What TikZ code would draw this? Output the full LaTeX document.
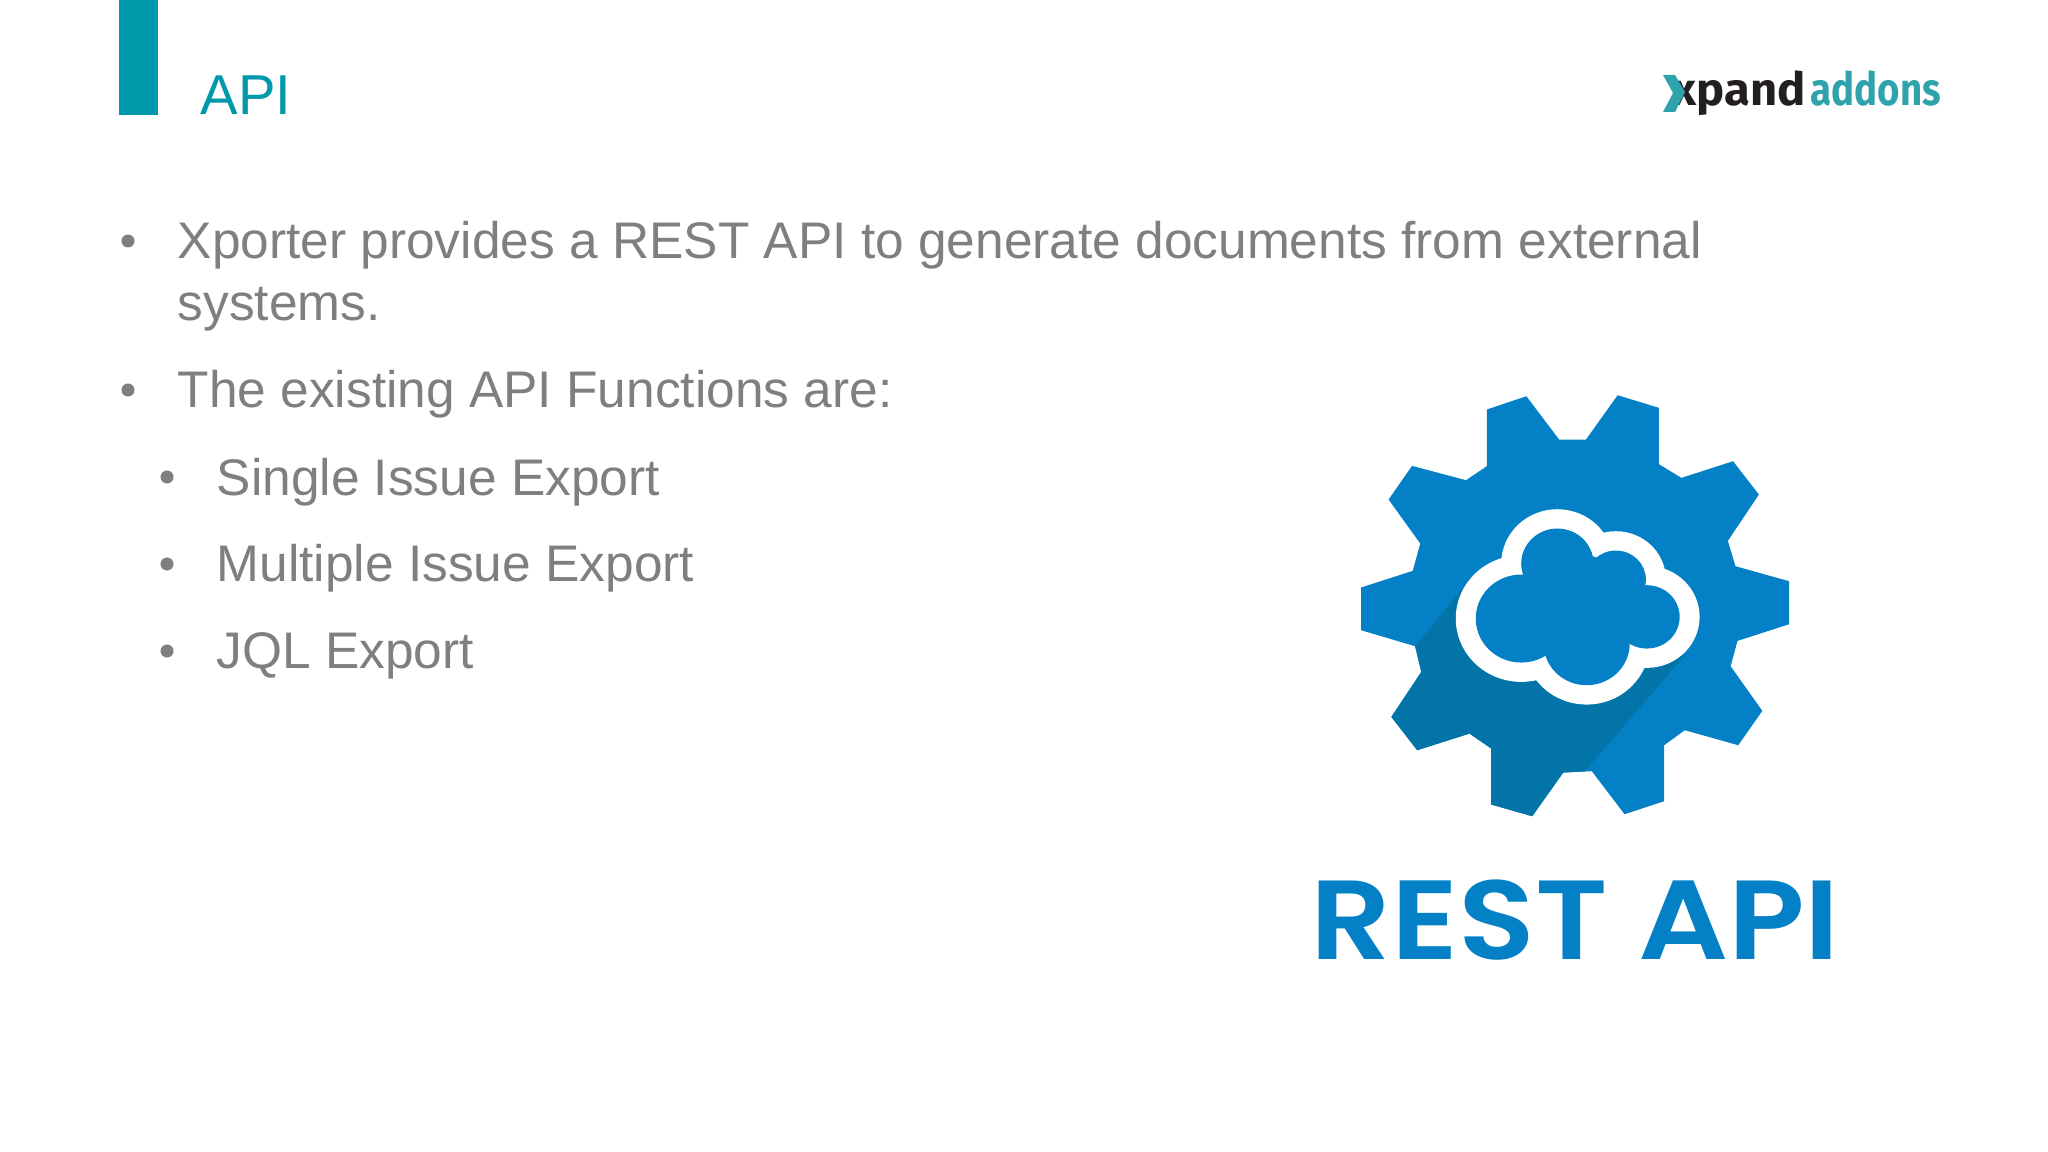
\documentclass[tikz,border=0pt]{standalone}
\usepackage{fontspec}
\usepackage{tikz}
\setmainfont{Liberation Sans}
\newfontfamily\restfont{Poppins SemiBold}
\newfontfamily\logofont{Fira Sans}
\definecolor{tealbar}{HTML}{0098AB}
\definecolor{bodygray}{HTML}{7F7F7F}
\definecolor{gearblue}{HTML}{0481C6}
\definecolor{geardark}{HTML}{0274A8}
\definecolor{logoteal}{HTML}{2FA3AC}
\definecolor{logoblack}{HTML}{231F20}
\tikzset{
    bodytext/.style={anchor=base west, inner sep=0pt, text=bodygray, font=\fontsize{14.63pt}{17pt}\selectfont},
    bulletmark/.style={circle, fill=bodygray, inner sep=0pt, minimum size=0.13cm}
}

\begin{document}
\begin{tikzpicture}[x=0.01cm, y=-0.01cm]
        \useasboundingbox (0, 0) rectangle (2048, 1152);

        % title
        \fill[tealbar] (119, 0) rectangle (158, 115);
        \node[anchor=base west, inner sep=0pt, text=tealbar, font=\fontsize{16pt}{18pt}\selectfont] (title) at (200, 114.5) {API};

        % bullets
        \node[bulletmark] (b1) at (128, 241) {};
        \node[bulletmark] (b2) at (128, 390) {};
        \node[bulletmark] (b3) at (167, 477) {};
        \node[bulletmark] (b4) at (167, 564) {};
        \node[bulletmark] (b5) at (167, 651) {};

        \node[bodytext] (line1) at (177, 259) {Xporter provides a REST API to generate documents from external};
        \node[bodytext] (line1b) at (177, 321) {systems.};
        \node[bodytext] (line2) at (177, 408) {The existing API Functions are:};
        \node[bodytext] (line3) at (216, 495) {Single Issue Export};
        \node[bodytext] (line4) at (216, 581) {Multiple Issue Export};
        \node[bodytext] (line5) at (216, 668) {JQL Export};

        % logo
        \node[anchor=base west, inner sep=0pt, text=logoblack, font=\logofont\bfseries\fontsize{13pt}{15pt}\selectfont, xscale=1.03] (logoa) at (1672, 106) {xpand};
        \node[anchor=base west, inner sep=0pt, text=logoteal, font=\logofont\bfseries\fontsize{13pt}{15pt}\selectfont, xscale=0.84] (logob) at (1810, 106) {addons};
        \fill[logoteal] (1663, 75) -- (1675, 75) -- (1685, 92) -- (1675, 112) -- (1663, 112) -- (1673, 93) -- cycle;

        % gear
        \begin{scope}[xshift=13cm, yshift=-3.7cm, x=0.01cm/2.904, y=-0.01cm/3]
            \fill[gearblue] (540,118) -- (655,78) -- (750,208) -- (828,208) -- (920,75) -- (1040,113) -- (1040,282) -- (1105,323) -- (1255,273) -- (1330,373) -- (1240,512) -- (1262,588) -- (1418,633) -- (1418,762) -- (1268,812) -- (1248,888) -- (1340,1022) -- (1270,1125) -- (1115,1080) -- (1055,1125) -- (1055,1293) -- (940,1332) -- (845,1203) -- (762,1207) -- (672,1338) -- (553,1303) -- (553,1135) -- (490,1090) -- (338,1140) -- (263,1040) -- (350,905) -- (332,828) -- (175,780) -- (175,652) -- (325,602) -- (347,520) -- (255,388) -- (323,287) -- (480,330) -- (540,288) -- cycle;
            \fill[geardark] (332,828) -- (470,655) -- (800,700) -- (1115,855) -- (825,1203) -- (762,1207) -- (672,1338) -- (553,1303) -- (553,1135) -- (490,1090) -- (338,1140) -- (263,1040) -- (350,905) -- cycle;
            % cloud
            \foreach \cx/\cy/\cr in {640/745/132, 745/580/105, 915/628/87, 1005/740/95, 830/820/125, 800/700/150} {
                \fill[white] (\cx, \cy) circle[radius=\cr+58];
            }
            \foreach \cx/\cy/\cr in {640/745/132, 745/580/105, 915/628/87, 1005/740/95, 830/820/125, 800/700/150} {
                \fill[gearblue] (\cx, \cy) circle[radius=\cr];
            }
        \end{scope}

        % label under the gear
        \node[anchor=base west, inner sep=0pt, text=gearblue, font=\restfont\fontsize{32pt}{36pt}\selectfont, xscale=1.12] (rest) at (1310, 959) {REST API};
    \end{tikzpicture}
\end{document}
